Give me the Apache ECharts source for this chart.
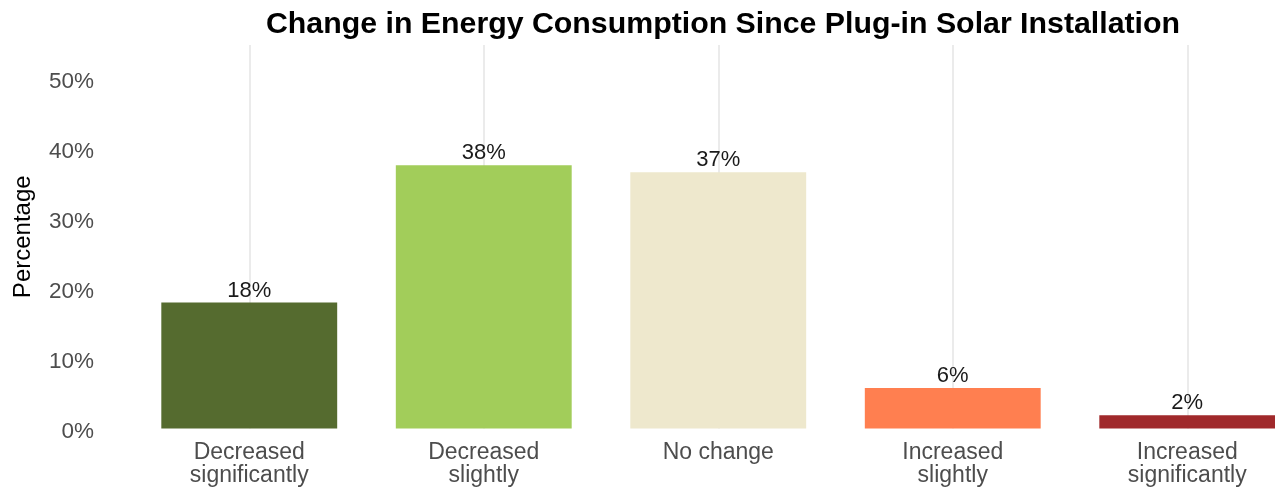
<!DOCTYPE html>
<html>
<head>
<meta charset="utf-8">
<script src="https://cdn.jsdelivr.net/npm/echarts@6/dist/echarts.min.js"></script>
<style>
html,body{margin:0;padding:0;background:#fff;overflow:hidden;}
#chart{width:1275px;height:489px;}
</style>
</head>
<body>
<div id="chart"></div>
<script>
const categories = ['Decreased\nsignificantly', 'Decreased\nslightly', 'No change', 'Increased\nslightly', 'Increased\nsignificantly'];
const values = [18.0, 37.6, 36.6, 5.8, 1.9];
const colors = ['#556B2F', '#A2CD5A', '#EEE8CD', '#FF7F50', '#A0292B'];
const yTicks = [0, 10, 20, 30, 40, 50];
const titleText = 'Change in Energy Consumption Since Plug-in Solar Installation';
const yName = 'Percentage';

const chart = echarts.init(document.getElementById('chart'), null, {renderer: 'canvas'});
const font = 'Liberation Sans, Arial, Helvetica, sans-serif';
chart.setOption({
  animation: false,
  backgroundColor: '#ffffff',
  title: {
    text: titleText,
    left: 718,
    top: 5,
    textAlign: 'center',
    textStyle: {fontFamily: font, fontSize: 30.3, fontWeight: 'bold', color: '#000000'}
  },
  grid: {left: 132, top: 45, width: 1172.5, height: 383.5, containLabel: false, outerBoundsMode: 'none'},
  xAxis: {
    type: 'category',
    data: categories,
    axisLine: {show: false},
    axisTick: {show: false, alignWithLabel: true},
    splitLine: {show: true, alignWithLabel: true, lineStyle: {color: '#EBEBEB', width: 2}},
    axisLabel: {fontFamily: font, fontSize: 23, color: '#4D4D4D', lineHeight: 23.5, margin: 12, interval: 0}
  },
  yAxis: {
    type: 'value',
    min: 0,
    max: 54.8,
    interval: 10,
    name: yName,
    nameLocation: 'middle',
    nameGap: 97,
    nameTextStyle: {fontFamily: font, fontSize: 24, color: '#000000'},
    axisLine: {show: false},
    axisTick: {show: false},
    splitLine: {show: false},
    axisLabel: {
      fontFamily: font, fontSize: 22.5, color: '#4D4D4D', margin: 38,
      verticalAlign: 'top', lineHeight: 7,
      showMaxLabel: false,
      formatter: function (v) { return yTicks.indexOf(v) >= 0 ? v + '%' : ''; }
    }
  },
  series: [{
    type: 'bar',
    data: values.map(function (v, i) { return {value: v, itemStyle: {color: colors[i]}}; }),
    barWidth: '75%',
    z: 3,
    label: {
      show: true,
      position: 'top',
      distance: 1,
      fontFamily: font,
      fontSize: 22,
      color: '#1A1A1A',
      formatter: function (p) { return Math.round(p.value) + '%'; }
    }
  }]
});
</script>
</body>
</html>
